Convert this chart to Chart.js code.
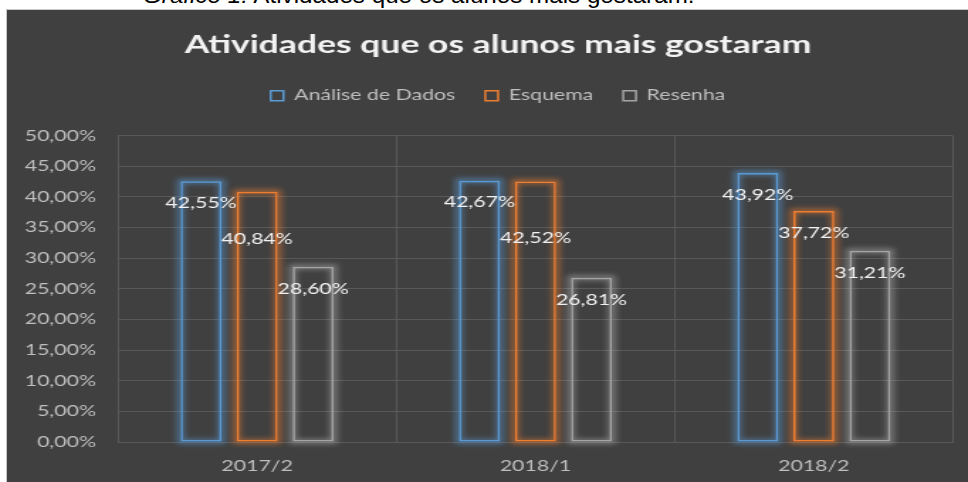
<!DOCTYPE html>
<html>
<head>
<meta charset="utf-8">
<script src="https://cdn.jsdelivr.net/npm/chart.js@4.4.0/dist/chart.umd.min.js"></script>
<style>
  html, body { margin: 0; padding: 0; background: #fff; width: 968px; height: 482px; overflow: hidden; }
  #caption {
    position: absolute; left: 143px; top: -15px;
    font-family: "Liberation Sans", Arial, sans-serif; font-size: 22px; line-height: 22px;
    color: #000; white-space: nowrap; transform-origin: 0 0; transform: scaleX(1.1);
  }
  #caption i { font-style: italic; }
  #panel {
    position: absolute; left: 6px; top: 9px; width: 961px; height: 472px;
    border-left: 1px solid #c9c9c9; border-top: 1px solid #c9c9c9; background: #404040;
  }
  #mainChart { position: absolute; left: 0; top: 0; }
</style>
</head>
<body>
<div id="caption"><i>Gráfico 1:</i> Atividades que os alunos mais gostaram.</div>
<div id="panel"><canvas id="mainChart"></canvas></div>
<script>
// dados
const categories = ['2017/2', '2018/1', '2018/2'];
const seriesNames = ['Análise de Dados', 'Esquema', 'Resenha'];
const analiseDados = [42.55, 42.67, 43.92];
const esquema = [40.84, 42.52, 37.72];
const resenha = [28.60, 26.81, 31.21];
const yMax = 50;
const yStep = 5;

const lineColors = ['#5B9BD5', '#ED7D31', '#A5A5A5'];
const glowColors = ['rgba(91,155,213,0.55)', 'rgba(237,125,49,0.55)', 'rgba(205,205,205,0.42)'];

// the picture is stretched sideways, so the canvas is drawn narrow and widened by CSS
const STRETCH = 1.42;
const CSS_W = 961, CSS_H = 472;
const sx = v => v / STRETCH;

const fmt = v => v.toFixed(2).replace('.', ',') + '%';

const barGlow = {
    id: 'barGlow',
    beforeDatasetsDraw(chart) {
        const ctx = chart.ctx;
        chart.data.datasets.forEach((ds, d) => {
            chart.getDatasetMeta(d).data.forEach(bar => {
                const p = bar.getProps(['x', 'y', 'base', 'width'], true);
                ctx.save();
                ctx.filter = 'blur(2.5px)';
                ctx.strokeStyle = glowColors[d];
                ctx.lineWidth = 5;
                ctx.strokeRect(p.x - p.width / 2, p.y, p.width, p.base - p.y);
                ctx.restore();
            });
        });
    }
};

const dataLabels = {
    id: 'dataLabels',
    afterDatasetsDraw(chart) {
        const ctx = chart.ctx;
        ctx.save();
        ctx.font = '15px Lato';
        ctx.fillStyle = '#F2F2F2';
        ctx.textAlign = 'center';
        ctx.textBaseline = 'middle';
        categories.forEach((c, i) => {
            let prevY = null;
            chart.data.datasets.forEach((ds, d) => {
                const bar = chart.getDatasetMeta(d).data[i];
                let y = bar.y + 22;
                if (prevY !== null && Math.abs(y - prevY) < 24) y = prevY + 36; // evita sobreposição
                ctx.fillText(fmt(ds.data[i]), bar.x, y);
                prevY = y;
            });
        });
        ctx.restore();
    }
};

// title and legend sit a bit right of the canvas centre in the original
const centerShift = {
    id: 'centerShift',
    afterLayout(chart) {
        const d = sx(18);
        [chart.titleBlock, chart.legend].forEach(b => {
            if (b) { b.left += d; b.right += d; }
        });
    }
};

const canvas = document.getElementById('mainChart');
canvas.width = Math.round(CSS_W / STRETCH);
canvas.height = CSS_H;
canvas.style.width = CSS_W + 'px';
canvas.style.height = CSS_H + 'px';

const tickFont = { family: 'Lato', size: 15 };

new Chart(canvas.getContext('2d'), {
    type: 'bar',
    data: {
        labels: categories,
        datasets: [analiseDados, esquema, resenha].map((vals, d) => ({
            label: seriesNames[d],
            data: vals,
            backgroundColor: 'rgba(0,0,0,0)',
            borderColor: lineColors[d],
            borderWidth: 1.5,
            borderSkipped: false,
            categoryPercentage: 0.604,
            barPercentage: 0.73
        }))
    },
    options: {
        responsive: false,
        animation: false,
        layout: { padding: { left: 0, right: sx(15), top: 0, bottom: -8 } },
        plugins: {
            title: {
                display: true,
                text: 'Atividades que os alunos mais gostaram',
                color: '#F2F2F2',
                font: { family: 'Lato', size: 25, weight: 'bold' },
                padding: { top: 20, bottom: 7 }
            },
            // empty spacer between legend and plot
            subtitle: {
                display: true,
                text: '',
                weight: 500,
                font: { size: 10, lineHeight: 1 },
                padding: { top: 0, bottom: 12.6 }
            },
            legend: {
                position: 'top',
                labels: { color: '#BFBFBF', font: tickFont, boxWidth: 9, boxHeight: 10, padding: sx(30) }
            },
            tooltip: { enabled: false }
        },
        scales: {
            x: {
                grid: { color: '#595959', offset: true, drawTicks: false },
                border: { color: '#595959' },
                ticks: { color: '#BFBFBF', font: tickFont, padding: 15 }
            },
            y: {
                min: 0,
                max: yMax,
                grid: { color: '#595959', drawTicks: false },
                border: { display: false },
                ticks: { stepSize: yStep, color: '#BFBFBF', font: tickFont, padding: sx(22), callback: v => fmt(v) },
                afterFit: s => { s.width = sx(111); }
            }
        }
    },
    plugins: [barGlow, dataLabels, centerShift]
});
</script>
</body>
</html>
